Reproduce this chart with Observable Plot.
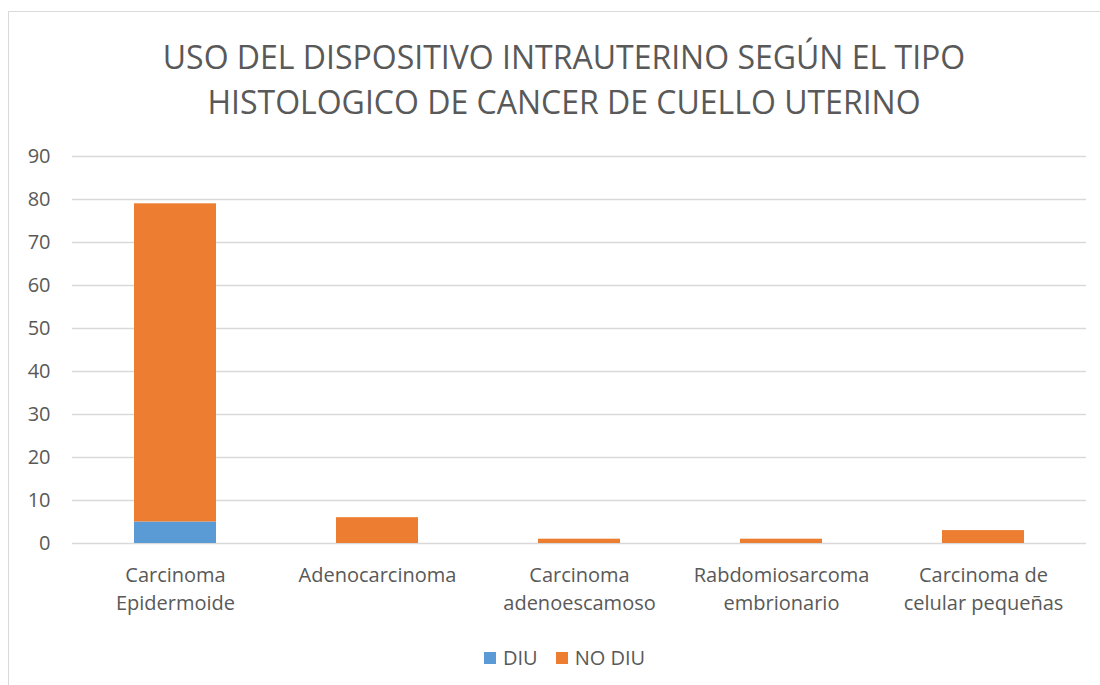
<!DOCTYPE html>
<html>
<head>
<meta charset="utf-8">
<script src="https://cdn.jsdelivr.net/npm/d3@7"></script>
<script src="https://cdn.jsdelivr.net/npm/@observablehq/plot@0.6"></script>
<style>
  html, body { margin: 0; padding: 0; background: #fff; }
  #wrap { position: relative; width: 1100px; height: 685px; overflow: hidden; font-family: "Open Sans", sans-serif; color: #595959; }
  #frame { position: absolute; left: 8px; top: 11px; width: 1110px; height: 700px; border: 1.5px solid #d9d9d9; box-sizing: border-box; }
  #title { position: absolute; left: 0; width: 1128px; top: 34px; text-align: center; font-size: 32px; line-height: 45px; font-weight: 400; }
  #chart { position: absolute; left: 0; top: 140px; }
  #legend { position: absolute; top: 644px; left: 484px; font-size: 20px; display: flex; align-items: center; }
  #legend .sw { display: inline-block; width: 12px; height: 12px; margin-right: 7px; }
  #legend .item { display: flex; align-items: center; margin-right: 18px; }
</style>
</head>
<body>
<div id="wrap">
  <div id="frame"></div>
  <div id="title">USO DEL DISPOSITIVO INTRAUTERINO SEGÚN EL TIPO<br>HISTOLOGICO DE CANCER DE CUELLO UTERINO</div>
  <div id="chart"></div>
  <div id="legend"></div>
</div>
<script>
const categories = ["Carcinoma Epidermoide", "Adenocarcinoma", "Carcinoma adenoescamoso", "Rabdomiosarcoma embrionario", "Carcinoma de celular pequeñas"];
const tickLabels = ["Carcinoma\nEpidermoide", "Adenocarcinoma", "Carcinoma\nadenoescamoso", "Rabdomiosarcoma\nembrionario", "Carcinoma de\ncelular pequeñas"];
const seriesNames = ["DIU", "NO DIU"];
const diu = [5, 0, 0, 0, 0];
const noDiu = [74, 6, 1, 1, 3];
const yTicks = [0, 10, 20, 30, 40, 50, 60, 70, 80, 90];
const colors = ["#5B9BD5", "#ED7D31"];

const rows = [];
categories.forEach((c, i) => {
  rows.push({category: c, series: seriesNames[0], value: diu[i]});
  rows.push({category: c, series: seriesNames[1], value: noDiu[i]});
});
const labelOf = new Map(categories.map((c, i) => [c, tickLabels[i]]));

const plot = Plot.plot({
  width: 1100,
  height: 545,
  marginLeft: 72,
  marginRight: 14,
  marginTop: 16,
  marginBottom: 142,
  style: {fontFamily: "Open Sans, sans-serif", fontSize: "20px", color: "#595959", background: "transparent"},
  x: {domain: categories, paddingInner: 0.595, paddingOuter: 0.2975, label: null},
  y: {domain: [0, 90], label: null},
  color: {domain: seriesNames, range: colors},
  marks: [
    Plot.ruleY(yTicks, {stroke: "#d9d9d9", strokeWidth: 1.5}),
    Plot.axisY({ticks: yTicks, tickSize: 0, tickPadding: 22, label: null, fill: "#595959", fontSize: 20}),
    Plot.axisX({tickSize: 0, tickPadding: 19, tickFormat: d => labelOf.get(d), label: null, lineHeight: 1.4, fill: "#595959", fontSize: 20}),
    Plot.barY(rows, Plot.stackY({x: "category", y: "value", fill: "series", order: seriesNames}))
  ]
});
document.getElementById("chart").appendChild(plot);

const legend = document.getElementById("legend");
seriesNames.forEach((s, i) => {
  const item = document.createElement("span");
  item.className = "item";
  const sw = document.createElement("span");
  sw.className = "sw";
  sw.style.background = colors[i];
  item.appendChild(sw);
  item.appendChild(document.createTextNode(s));
  legend.appendChild(item);
});
</script>
</body>
</html>
